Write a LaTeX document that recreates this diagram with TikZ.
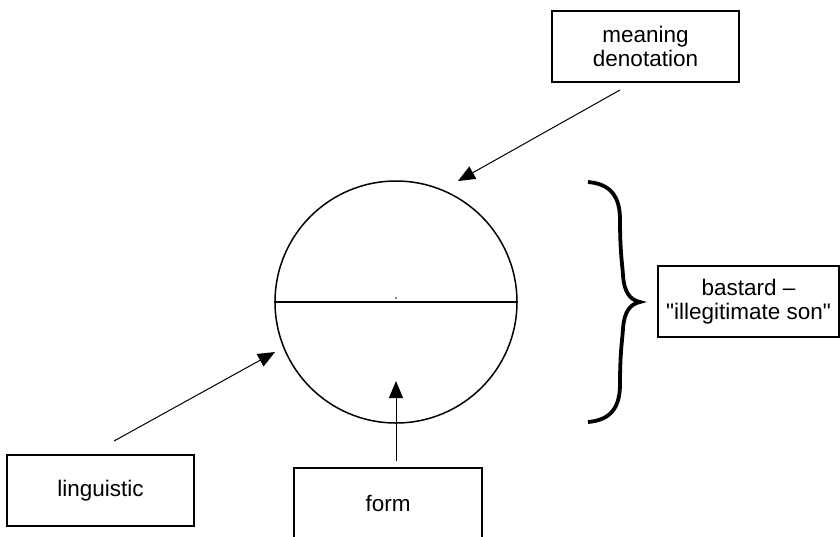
\documentclass[tikz,border=0pt]{standalone}
\usepackage{fontspec}
\setmainfont{Liberation Sans}
\usetikzlibrary{arrows.meta}
\begin{document}
\begin{tikzpicture}[x=1pt,y=-1pt,
  box/.style={draw,line width=1.3pt,minimum width=187pt,minimum height=71pt,inner sep=0pt,align=center,font=\fontsize{22.5}{24}\selectfont},
  arr/.style={line width=1pt,-{Triangle[length=17pt,width=14pt]}}]
\useasboundingbox (0,0) rectangle (840,536);
\node[draw,circle,line width=1.5pt,minimum size=242pt,inner sep=0pt] (c) at (396,302) {};
\draw[line width=1.5pt] (c.west) -- (c.east);
\fill (396,298) circle (0.8pt);
\node[box] (mean) at (645.5,46.5) {meaning\\denotation};
\node[box,minimum width=181pt] (bast) at (748.5,301.5) {bastard –\\\textquotedbl illegitimate son\textquotedbl};
\node[box] (ling) at (100.5,490.5) {linguistic};
\node[box,minimum width=188pt] (form) at (388,503.5) {form};
\coordinate (m1) at (620,90);
\coordinate (m2) at (458,181);
\coordinate (l1) at (114,441);
\coordinate (l2) at (275,352);
\coordinate (f1) at (396,461);
\coordinate (f2) at (396,381);
\draw[arr] (m1) -- (m2);
\draw[arr] (l1) -- (l2);
\draw[arr] (f1) -- (f2);
\draw[line width=3.8pt] (588,182) .. controls (612,184) and (620,198) .. (620,220) .. controls (620,250) and (622,262) .. (623,275) .. controls (624,292) and (630,300) .. (640,302) .. controls (630,304) and (624,312) .. (623,329) .. controls (622,342) and (620,354) .. (620,384) .. controls (620,406) and (612,420) .. (588,422);
\end{tikzpicture}
\end{document}
